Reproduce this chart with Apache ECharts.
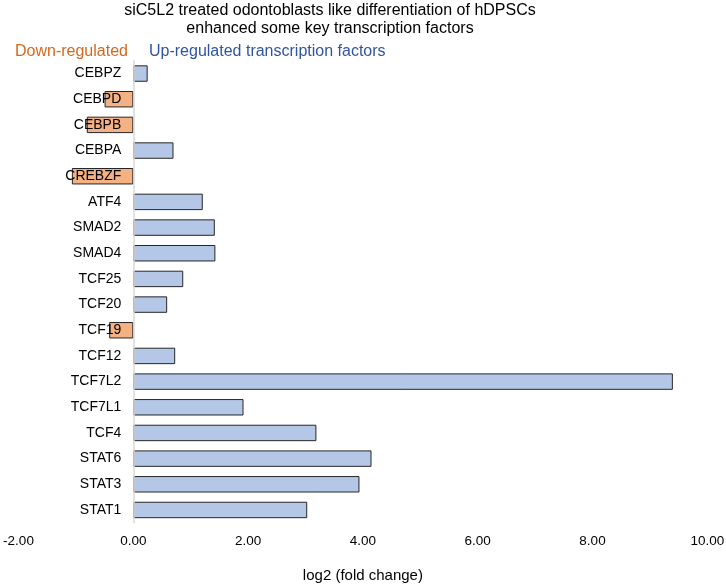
<!DOCTYPE html>
<html>
<head>
<meta charset="utf-8">
<script src="https://cdn.jsdelivr.net/npm/echarts@6/dist/echarts.min.js"></script>
<style>
    html, body { margin: 0; padding: 0; background: #fff; }
    #chart { width: 726px; height: 586px; }
</style>
</head>
<body>
<div id="chart"></div>
<script>
let genes = ['CEBPZ', 'CEBPD', 'CEBPB', 'CEBPA', 'CREBZF', 'ATF4', 'SMAD2', 'SMAD4', 'TCF25',
    'TCF20', 'TCF19', 'TCF12', 'TCF7L2', 'TCF7L1', 'TCF4', 'STAT6', 'STAT3', 'STAT1'];
let foldChange = [0.25, -0.50, -0.81, 0.70, -1.07, 1.21, 1.42, 1.43, 0.87,
    0.59, -0.42, 0.73, 9.40, 1.92, 3.19, 4.15, 3.94, 3.03];
let titleLines = ['siC5L2 treated odontoblasts like differentiation of hDPSCs',
    'enhanced some key transcription factors'];
let downLabel = 'Down-regulated';
let upLabel = 'Up-regulated transcription factors';
let axisTitle = 'log2 (fold change)';

const font = 'Liberation Sans, Arial, sans-serif';
const gridLeft = 18.5;
const gridRight = 18.7;
const xMin = -2, xMax = 10;

function renderChart() {
    let chart = echarts.init(document.getElementById('chart'));
    let plotWidth = 726 - gridLeft - gridRight;
    // move the category axis onto x = 0
    let zeroOffset = (0 - xMin) / (xMax - xMin) * plotWidth;
    let options = {
        animation: false,
        graphic: [
            {
                type: 'text', x: 330, y: 2,
                style: {
                    text: titleLines.join('\n'), fill: '#000', font: '16px ' + font,
                    textAlign: 'center', lineHeight: 18
                }
            },
            {
                type: 'text', x: 15, y: 44,
                style: { text: downLabel, fill: '#D2691E', font: '16px ' + font }
            },
            {
                type: 'text', x: 149, y: 44,
                style: { text: upLabel, fill: '#2F55A0', font: '16px ' + font }
            }
        ],
        grid: {
            left: gridLeft,
            right: gridRight,
            top: 60.7,
            bottom: 63.2,
            containLabel: false,
            outerBoundsMode: 'none'
        },
        xAxis: {
            type: 'value',
            min: xMin,
            max: xMax,
            interval: 2,
            axisLine: { show: false },
            axisTick: { show: false },
            splitLine: { show: false },
            axisLabel: {
                color: '#000',
                fontSize: 13.5,
                fontFamily: font,
                margin: 11,
                formatter: v => v.toFixed(2)
            },
            name: axisTitle,
            nameLocation: 'middle',
            nameGap: 46,
            nameTextStyle: { color: '#000', fontSize: 15, fontFamily: font }
        },
        yAxis: {
            type: 'category',
            inverse: true,
            data: genes,
            z: 5,
            offset: -zeroOffset,
            axisLine: { show: true, onZero: false, lineStyle: { color: '#d9d9d9', width: 1.5 } },
            axisTick: { show: false },
            axisLabel: {
                color: '#000',
                fontSize: 14,
                fontFamily: font,
                margin: 12
            }
        },
        series: [
            {
                type: 'bar',
                data: foldChange,
                barCategoryGap: '36%',
                itemStyle: {
                    color: p => p.value < 0 ? '#F4B183' : '#B4C7E7',
                    borderColor: '#262626',
                    borderWidth: 1
                }
            }
        ]
    };
    chart.setOption(options);
}

renderChart();
</script>
</body>
</html>
